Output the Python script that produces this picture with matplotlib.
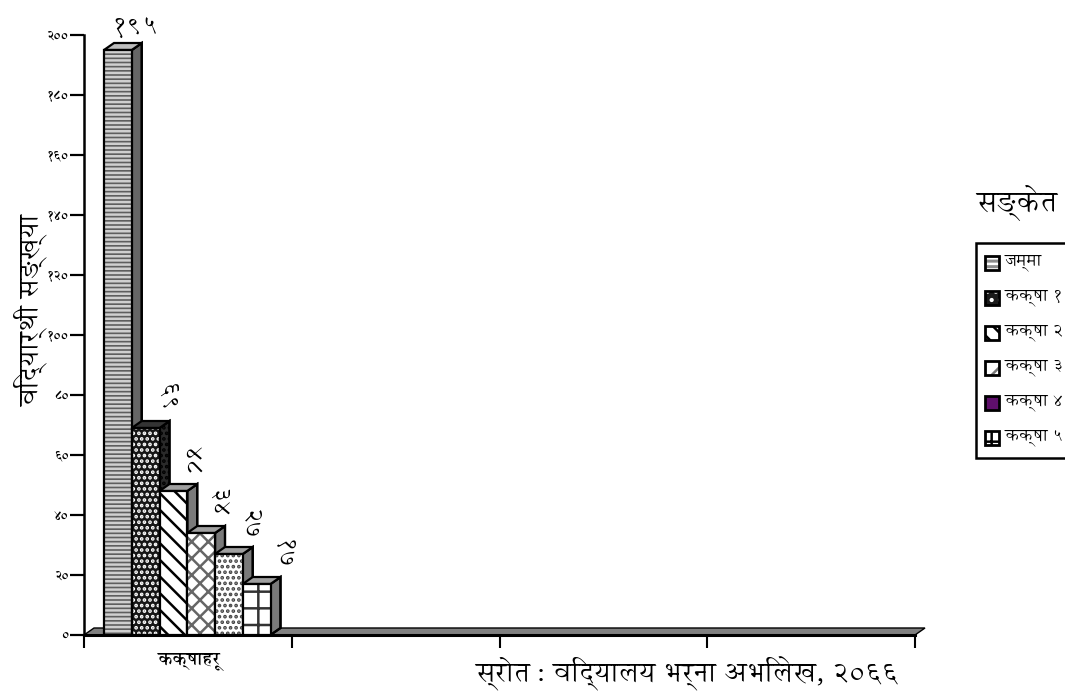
import matplotlib
matplotlib.use('Agg')
import matplotlib.pyplot as plt
from matplotlib.patches import Polygon, Rectangle

plt.rcParams['font.family'] = ['Annapurna SIL', 'Noto Sans', 'DejaVu Sans']
plt.rcParams['hatch.linewidth'] = 1.8

# data
classes = ['जम्मा', 'कक्षा १', 'कक्षा २', 'कक्षा ३', 'कक्षा ४', 'कक्षा ५']
students = [195, 69, 48, 34, 27, 17]
value_labels = ['१९५', '६९', '४८', '३४', '२७', '१७']
y_ticks = [0, 20, 40, 60, 80, 100, 120, 140, 160, 180, 200]
y_labels = ['०', '२०', '४०', '६०', '८०', '१००', '१२०', '१४०', '१६०', '१८०', '२००']
x_label = 'कक्षाहरू'
y_title = 'विद्यार्थी सङ्ख्या'
legend_title = 'सङ्केत'
source = 'स्रोत : विद्यालय भर्ना अभिलेख, २०६६'

# bar styles
face_colors = ['#5e5e5e', '#161616', 'white', 'white', 'white', 'white']
hatch_colors = ['#cfcfcf', 'white', 'black', '#666666', '#444444', '#333333']
hatches = ['----', '...', '\\\\', 'xx', '...', '+']
side_colors = ['#666666', '#2a2a2a', '#7a7a7a', '#7a7a7a', '#7a7a7a', '#7a7a7a']
side_hatch = ['', '...', '', '', '', '']
top_colors = ['#bdbdbd', '#333333', '#a0a0a0', '#a0a0a0', '#a0a0a0', '#a0a0a0']
label_shift = [0.08, 0.10, 0.08, 0.075, 0.10, 0.125]

W, H = 1065, 691
fig = plt.figure(figsize=(W / 100, H / 100), dpi=100)
ax = fig.add_axes([84 / W, (H - 635) / H, 831 / W, 600 / H])
ax.set_xlim(0, 4)
ax.set_ylim(0, 200)
for s in ['top', 'right']:
    ax.spines[s].set_visible(False)
ax.spines['left'].set_linewidth(1.8)
ax.spines['bottom'].set_linewidth(2.2)

# depth of the fake 3d, in data units
dx = 10 / 207.75
dy = 7 / 3.0
bar_w = 27.75 / 207.75
start = 20 / 207.75

# floor
ax.add_patch(Polygon([(0, 0), (dx, dy), (4 + dx, dy), (4, 0)], closed=True,
                     facecolor='#808080', edgecolor='black', lw=1, clip_on=False, zorder=1))

for i in range(len(students)):
    x0 = start + i * bar_w
    v = students[i]
    # side and top first, next bar covers them
    ax.add_patch(Polygon([(x0 + bar_w, 0), (x0 + bar_w + dx, dy), (x0 + bar_w + dx, v + dy), (x0 + bar_w, v)],
                         closed=True, facecolor=side_colors[i], edgecolor='black', lw=1.6,
                         hatch=side_hatch[i], zorder=2 + i))
    ax.add_patch(Polygon([(x0 + bar_w, 0), (x0 + bar_w + dx, dy), (x0 + bar_w + dx, v + dy), (x0 + bar_w, v)],
                         closed=True, fill=False, edgecolor='black', lw=1.6, zorder=2 + i))
    ax.add_patch(Polygon([(x0, v), (x0 + dx, v + dy), (x0 + bar_w + dx, v + dy), (x0 + bar_w, v)],
                         closed=True, facecolor=top_colors[i], edgecolor='black', lw=1.6, zorder=2 + i))
    ax.bar(x0, v, bar_w, align='edge', color=face_colors[i], edgecolor=hatch_colors[i],
           hatch=hatches[i], lw=0, zorder=2 + i)
    ax.bar(x0, v, bar_w, align='edge', fill=False, edgecolor='black', lw=1.6, zorder=2 + i)

# value labels, first one flat, others turned
ax.text(start + 0.5 * bar_w + label_shift[0], students[0] + 3, value_labels[0], fontsize=19,
        ha='center', va='bottom', clip_on=False)
for i in range(1, len(students)):
    ax.text(start + (i + 0.5) * bar_w + label_shift[i], students[i] + 5, value_labels[i], fontsize=18,
            rotation=270, ha='center', va='bottom', clip_on=False)

ax.set_xticks([0, 1, 2, 3, 4])
ax.set_xticklabels([])
ax.tick_params(axis='x', length=9, width=1.5, direction='out')
ax.set_yticks(y_ticks)
ax.set_yticklabels(y_labels, fontsize=9, fontweight='bold')
ax.tick_params(axis='y', length=10, width=1.6, pad=1)

fig.text(189 / W, 1 - 662 / H, x_label, fontsize=13, fontweight='bold', ha='center', va='center')
fig.text(31 / W, 1 - 311 / H, y_title, fontsize=19.5, rotation=90, ha='center', va='center')
fig.text(687 / W, 1 - 674 / H, source, fontsize=20, ha='center', va='center')
fig.text(1017 / W, 1 - 203 / H, legend_title, fontsize=21, ha='center', va='center')

# legend box runs off the right edge like the original
fig.add_artist(Rectangle((976 / W, 1 - 458 / H), 120 / W, 215 / H, transform=fig.transFigure,
                         facecolor='white', edgecolor='black', lw=1.8))
legend_faces = ['#8c8c8c', '#1a1a1a', 'white', 'white', '#5f0f6b', 'white']
legend_hatch = ['---', '..', '\\\\', '/', '', '+']
legend_hc = ['white', 'white', 'black', '#777777', 'black', 'black']
for i in range(len(classes)):
    yc = 1 - (263 + i * 35) / H
    fig.add_artist(Rectangle((985 / W, yc - 7 / H), 14 / W, 14 / H, transform=fig.transFigure,
                             facecolor=legend_faces[i], edgecolor=legend_hc[i], hatch=legend_hatch[i], lw=0))
    fig.add_artist(Rectangle((985 / W, yc - 7 / H), 14 / W, 14 / H, transform=fig.transFigure,
                             fill=False, edgecolor='black', lw=2))
    fig.text(1005 / W, yc, classes[i], fontsize=12.5, ha='left', va='center')

fig.savefig('out.png', dpi=100)
